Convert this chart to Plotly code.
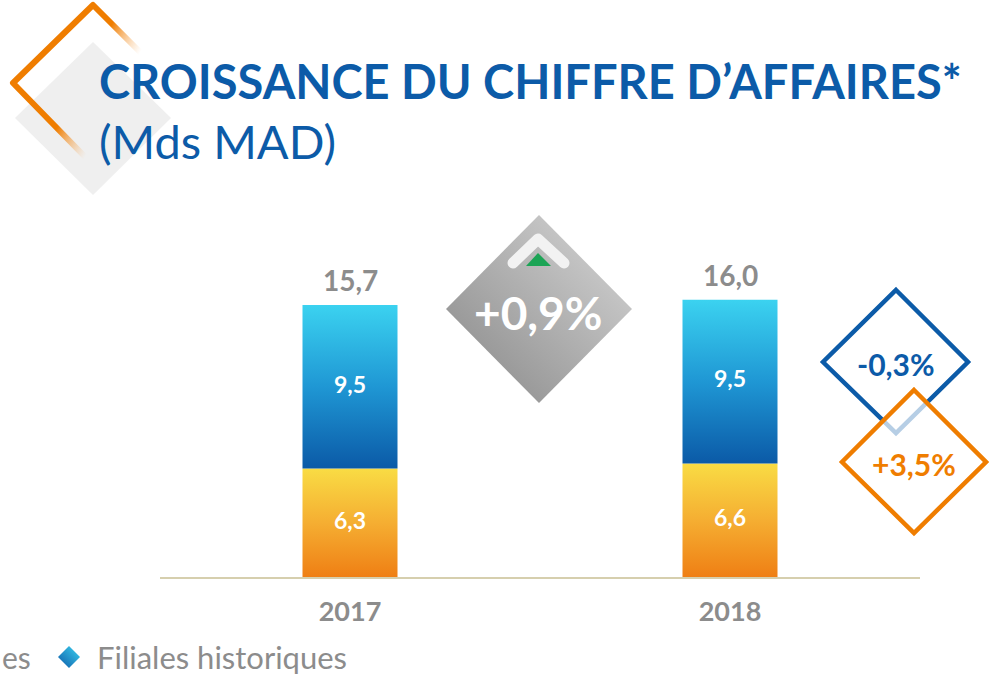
import base64
import plotly.graph_objects as go

# ---------------- data ----------------
years = ["2017", "2018"]
nouvelles = [6.3, 6.6]          # orange, bottom segment
historiques = [9.5, 9.5]        # blue, top segment
totals = [15.7, 16.0]
lbl_nouvelles = ["6,3", "6,6"]
lbl_historiques = ["9,5", "9,5"]
lbl_totals = ["15,7", "16,0"]
growth_total = "+0,9%"
growth_historiques = "-0,3%"
growth_nouvelles = "+3,5%"
legend_labels = ["es", "Filiales historiques"]

# ---------------- geometry helpers ----------------
W, H = 989, 676
ML, MR, MT, MB = 160, 69, 200, 99
PW, PH = W - ML - MR, H - MT - MB
YMAX = 21.9
BAR_HALF = 0.125


def px2x(px):
    return (px - ML) / PW


def py2y(py):
    return (H - MB - py) / PH


def svg_uri(svg):
    return "data:image/svg+xml;base64," + base64.b64encode(svg.encode()).decode()


def add_svg(fig, svg, left, top, w, h, layer="above"):
    fig.add_layout_image(dict(
        source=svg_uri(svg), xref="paper", yref="paper",
        x=px2x(left), y=py2y(top), sizex=w / PW, sizey=h / PH,
        xanchor="left", yanchor="top", sizing="stretch", layer=layer))


FONT = "Lato"
BLUE = "#0c5ba8"
ORANGE = "#ef7d00"
GREY = "#8c8c8c"

fig = go.Figure()

# ---------------- bars (gradient filled polygons built from data) ----------------
orange_scale = [[0, "#ef7f14"], [0.5, "#f5ae32"], [1, "#f9dc44"]]
blue_scale = [[0, "#0b5aa7"], [0.5, "#1f97d4"], [1, "#3bd2f0"]]

for i in range(len(years)):
    segs = [(0, nouvelles[i], orange_scale),
            (nouvelles[i], nouvelles[i] + historiques[i], blue_scale)]
    for y0, y1, cs in segs:
        fig.add_trace(go.Scatter(
            x=[i - BAR_HALF, i + BAR_HALF, i + BAR_HALF, i - BAR_HALF, i - BAR_HALF],
            y=[y0, y0, y1, y1, y0],
            mode="lines", fill="toself",
            fillgradient=dict(type="vertical", colorscale=cs),
            line=dict(width=0, color="rgba(0,0,0,0)"),
            hoverinfo="skip", showlegend=False))

xs = list(range(len(years)))
# segment labels
fig.add_trace(go.Scatter(
    x=xs, y=[v / 2 for v in nouvelles], mode="text", text=lbl_nouvelles,
    textfont=dict(family=FONT, size=23, color="white", weight="bold"),
    hoverinfo="skip", showlegend=False))
fig.add_trace(go.Scatter(
    x=xs, y=[n + h / 2 for n, h in zip(nouvelles, historiques)], mode="text",
    text=lbl_historiques,
    textfont=dict(family=FONT, size=23, color="white", weight="bold"),
    hoverinfo="skip", showlegend=False))
# totals
for i in xs:
    fig.add_annotation(
        x=i, y=nouvelles[i] + historiques[i], xref="x", yref="y",
        text=lbl_totals[i], showarrow=False, yanchor="bottom", yshift=6,
        font=dict(family=FONT, size=28, color=GREY, weight="bold"))

# ---------------- decorations ----------------
# top-left diamonds
deco = f"""<svg xmlns='http://www.w3.org/2000/svg' width='190' height='200' viewBox='0 0 190 200'>
<defs><linearGradient id='og' gradientUnits='userSpaceOnUse' x1='97' y1='52' x2='131' y2='70'>
<stop offset='0' stop-color='{ORANGE}' stop-opacity='1'/>
<stop offset='1' stop-color='#f7b26a' stop-opacity='0'/></linearGradient></defs>
<polygon points='93,42 171,118 93,195 15,118' fill='#efefef'/>
<polygon points='13,83 93,5 173,85 93,165' fill='none' stroke='url(#og)' stroke-width='6' stroke-linejoin='round'/>
</svg>"""
add_svg(fig, deco, 0, 0, 190, 200, layer="below")

# grey growth badge
badge = """<svg xmlns='http://www.w3.org/2000/svg' width='186' height='188' viewBox='0 0 186 188'>
<defs><linearGradient id='gg' x1='0' y1='1' x2='1' y2='0'>
<stop offset='0' stop-color='#868686'/><stop offset='1' stop-color='#d8d8d8'/></linearGradient></defs>
<polygon points='93,0 186,94 93,188 0,94' fill='url(#gg)'/>
<path d='M 67,48 L 92,24 L 118,48' fill='none' stroke='#f2f2f2' stroke-width='11' stroke-linecap='round' stroke-linejoin='round'/>
<polygon points='80,51 92,38 105,51' fill='#1ca455'/>
</svg>"""
add_svg(fig, badge, 446, 215, 186, 188)

# right diamonds
right = f"""<svg xmlns='http://www.w3.org/2000/svg' width='175' height='255' viewBox='0 0 175 255'>
<polygon points='81,5 153,77 81,148 8,77' fill='white' stroke='{BLUE}' stroke-width='4.5'/>
<polygon points='99,105 171,177 99,248 27,177' fill='rgba(255,255,255,0.7)' stroke='{ORANGE}' stroke-width='4.5'/>
</svg>"""
add_svg(fig, right, 815, 285, 175, 255)

# legend diamond
leg = """<svg xmlns='http://www.w3.org/2000/svg' width='24' height='24' viewBox='0 0 24 24'>
<defs><linearGradient id='lg' x1='0' y1='1' x2='1' y2='0'>
<stop offset='0' stop-color='#0d5aa8'/><stop offset='1' stop-color='#3cd2f0'/></linearGradient></defs>
<polygon points='12,1 23,12 12,23 1,12' fill='url(#lg)'/></svg>"""
add_svg(fig, leg, 57, 645, 24, 24)

# ---------------- texts ----------------
def ann(text, px, py, size, color, xanchor="center", weight="normal"):
    fig.add_annotation(
        text=text, x=px2x(px), y=py2y(py), xref="paper", yref="paper",
        xanchor=xanchor, yanchor="middle", showarrow=False,
        font=dict(family=FONT, size=size, color=color, weight=weight))

ann("CROISSANCE DU CHIFFRE D\u2019AFFAIRES*", 97, 81, 47, BLUE, "left", "bold")
ann("(Mds MAD)", 97, 141, 47, BLUE, "left")
ann(growth_total, 538, 312, 46, "white", weight="bold")
ann(growth_historiques, 896, 364, 30, BLUE, weight="bold")
ann(growth_nouvelles, 914, 464, 30, ORANGE, weight="bold")
ann(legend_labels[0], 0, 657, 30, GREY, "left")
ann(legend_labels[1], 95, 657, 31, GREY, "left")

fig.update_layout(
    width=W, height=H,
    margin=dict(l=ML, r=MR, t=MT, b=MB, pad=0),
    paper_bgcolor="white", plot_bgcolor="rgba(0,0,0,0)",
    showlegend=False,
    xaxis=dict(range=[-0.5, len(years) - 0.5], tickvals=xs, ticktext=years,
               showgrid=False, zeroline=False, showline=True,
               linecolor="#d6cfae", linewidth=2, ticks="",
               tickfont=dict(family=FONT, size=27, color=GREY, weight="bold"),
               ticklabelstandoff=10, fixedrange=True),
    yaxis=dict(range=[0, YMAX], visible=False, fixedrange=True),
)

fig.write_html(
    "out.html",
    config={"displayModeBar": False},
    post_script="document.body.style.margin='0';document.body.style.overflow='hidden';")
